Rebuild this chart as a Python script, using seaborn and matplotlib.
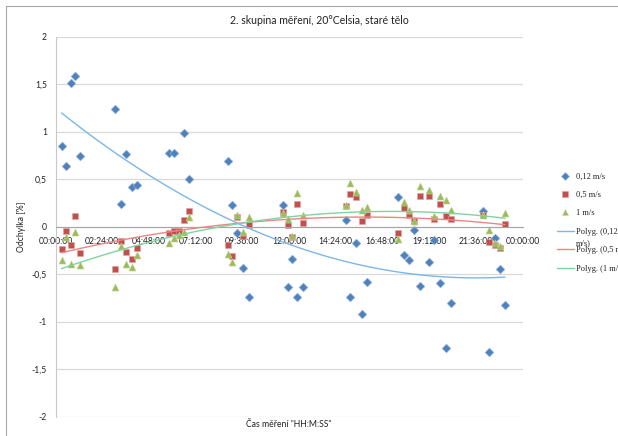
import numpy as np
import pandas as pd
import matplotlib
matplotlib.use("Agg")
import matplotlib.pyplot as plt
from matplotlib.lines import Line2D
import seaborn as sns

# ---------------- data ----------------
# measurement times in hours of the day
times_h = [0.31, 0.54, 0.78, 1.02, 1.28,
           3.08, 3.35, 3.62, 3.91, 4.20,
           5.81, 6.08, 6.35, 6.62, 6.87,
           8.89, 9.07, 9.34, 9.62, 9.93,
           11.68, 11.94, 12.16, 12.43, 12.72,
           14.93, 15.14, 15.44, 15.73, 15.99,
           17.58, 17.91, 18.18, 18.44, 18.71,
           19.21, 19.47, 19.78, 20.05, 20.33,
           21.98, 22.27, 22.58, 22.84, 23.10]

v_012 = [0.855, 0.64, 1.51, 1.59, 0.75,
         1.245, 0.244, 0.77, 0.42, 0.44,
         0.78, 0.78, np.nan, 0.99, 0.50,
         0.69, 0.23, -0.07, -0.43, -0.74,
         0.23, -0.64, -0.34, -0.74, -0.63,
         0.076, -0.745, -0.17, -0.92, -0.58,
         0.31, -0.30, -0.35, -0.03, -0.626,
         -0.37, -0.14, -0.59, -1.275, -0.80,
         0.17, -1.32, -0.12, -0.45, -0.83]

v_05 = [-0.23, -0.04, -0.19, 0.11, -0.28,
        -0.45, -0.15, -0.27, -0.335, -0.22,
        -0.065, -0.04, -0.05, 0.07, 0.166,
        -0.19, -0.31, 0.10, -0.10, 0.02,
        0.156, 0.016, -0.107, 0.244, 0.044,
        0.216, 0.34, 0.31, 0.065, 0.128,
        -0.07, 0.20, 0.12, 0.058, 0.32,
        0.32, 0.086, 0.237, 0.114, 0.08,
        0.128, -0.16, -0.195, -0.22, 0.034]

v_1 = [-0.35, -0.11, -0.39, -0.06, -0.405,
       -0.64, -0.20, -0.395, -0.42, -0.30,
       -0.17, -0.12, -0.09, -0.055, 0.10,
       -0.29, -0.37, 0.12, -0.06, 0.10,
       0.14, 0.086, -0.10, 0.356, 0.128,
       0.226, 0.46, 0.366, 0.174, 0.21,
       -0.13, 0.26, 0.18, 0.06, 0.43,
       0.39, 0.11, 0.324, 0.28, 0.18,
       0.12, -0.03, -0.17, -0.20, 0.14]

series_names = ["0,12 m/s", "0,5 m/s", "1 m/s"]
trend_names = ["Polyg. (0,12", "Polyg. (0,5 m/s)", "Polyg. (1 m/s)"]
x_ticks = [0, 2.4, 4.8, 7.2, 9.6, 12, 14.4, 16.8, 19.2, 21.6, 24]
x_tick_labels = ["00:00:00", "02:24:00", "04:48:00", "07:12:00", "09:36:00",
                 "12:00:00", "14:24:00", "16:48:00", "19:12:00", "21:36:00",
                 "00:00:00"]
y_ticks = [-2, -1.5, -1, -0.5, 0, 0.5, 1, 1.5, 2]
y_tick_labels = ["-2", "-1,5", "-1", "-0,5", "0", "0,5", "1", "1,5", "2"]
title = "2. skupina měření, 20°Celsia, staré tělo"
x_label = "Čas měření \"HH:M:SS\""
y_label = "Odchylka [%]"

# ---------------- style ----------------
sns.set_style("white")
plt.rcParams["font.family"] = ["Lato", "DejaVu Sans"]
FS = 6.2
TXT = "#222222"
blue, red, green = "#4F81BD", "#C0504D", "#9BBB59"
blue_e, red_e, green_e = "#9DB9DC", "#E2A09E", "#C6D9A0"
tblue, tred, tgreen = "#7EB6E6", "#EB8585", "#7FD3A0"

W, H = 618, 436
fig = plt.figure(figsize=(W / 100, H / 100), dpi=100)
L, R, T, B = 55.5, 522.5, 37.0, 416.5
ax = fig.add_axes([L / W, 1 - B / H, (R - L) / W, (B - T) / H])

df = pd.DataFrame({"t": times_h, "a": v_012, "b": v_05, "c": v_1})

sns.scatterplot(data=df, x="t", y="a", marker="D", s=20, color=blue,
                edgecolor=blue_e, linewidth=0.4, ax=ax, zorder=2)
sns.scatterplot(data=df, x="t", y="b", marker="s", s=20, color=red,
                edgecolor=red_e, linewidth=0.4, ax=ax, zorder=2)
sns.scatterplot(data=df, x="t", y="c", marker="^", s=26, color=green,
                edgecolor=green_e, linewidth=0.4, ax=ax, zorder=2)

for col, c in (("a", tblue), ("b", tred), ("c", tgreen)):
    sns.regplot(data=df, x="t", y=col, order=2, ci=None, scatter=False,
                truncate=True, line_kws={"color": c, "lw": 1.0, "zorder": 3},
                ax=ax)

# spines first (set_position resets the ticks)
for s in ("top", "right"):
    ax.spines[s].set_visible(False)
ax.spines["bottom"].set_position(("data", 0))
ax.spines["bottom"].set_color("#A6A6A6")
ax.spines["bottom"].set_linewidth(0.8)
ax.spines["left"].set_color("#C8C8C8")
ax.spines["left"].set_linewidth(0.8)

ax.set_xlim(0, 24)
ax.set_ylim(-2, 2)
ax.set_xticks(x_ticks)
ax.set_xticklabels(x_tick_labels)
ax.set_yticks(y_ticks)
ax.set_yticklabels(y_tick_labels)
ax.tick_params(axis="x", direction="out", length=2.2, width=0.7,
               color="#A6A6A6", pad=5, labelsize=FS, labelcolor=TXT)
ax.tick_params(axis="y", direction="out", length=2.2, width=0.7,
               color="#C8C8C8", pad=4, labelsize=FS, labelcolor=TXT)
ax.set_axisbelow(True)
ax.yaxis.grid(True, color="#D9D9D9", lw=0.9)
ax.xaxis.grid(False)

ax.set_xlabel(x_label, fontsize=FS, color=TXT)
ax.set_ylabel(y_label, fontsize=FS, color=TXT)
ax.xaxis.set_label_coords(0.5, -(424 - B) / (B - T))
ax.xaxis.label.set_va("center")
ax.yaxis.set_label_coords(-(L - 22) / (R - L), 0.5)
ax.yaxis.label.set_va("center")

fig.text(319 / W, 1 - 21 / H, title, ha="center", va="center",
         fontsize=7.6, color=TXT)

# legend
handles = [
    Line2D([], [], ls="none", marker="D", markersize=3.6, color=blue,
           markeredgecolor=blue_e, markeredgewidth=0.4),
    Line2D([], [], ls="none", marker="s", markersize=4.0, color=red,
           markeredgecolor=red_e, markeredgewidth=0.4),
    Line2D([], [], ls="none", marker="^", markersize=4.4, color=green,
           markeredgecolor=green_e, markeredgewidth=0.4),
    Line2D([], [], color=tblue, lw=1.0),
    Line2D([], [], color=tred, lw=1.0),
    Line2D([], [], color=tgreen, lw=1.0),
]
labels = series_names + trend_names
leg = fig.legend(handles, labels, loc="upper left",
                 bbox_to_anchor=(557 / W, 1 - 172.5 / H), frameon=False,
                 borderpad=0, borderaxespad=0, handlelength=2.0,
                 handletextpad=0.3, labelspacing=1.25,
                 prop={"family": ["Liberation Serif", "DejaVu Serif"],
                       "size": 6})
for t in leg.get_texts():
    t.set_color(TXT)

fig.canvas.draw()
bb = leg.get_texts()[3].get_window_extent()
fig.text(bb.x0 / W, (bb.y0 + bb.y1) / 2 / H - 11.5 / H, "m/s)",
         ha="left", va="center", color=TXT,
         family=["Liberation Serif", "DejaVu Serif"], fontsize=6)

# chart-area border (left and top visible, rest cropped)
fig.add_artist(Line2D([6 / W, 6 / W], [0, 1 - 6 / H], transform=fig.transFigure,
                      color="#A6A6A6", lw=0.8))
fig.add_artist(Line2D([6 / W, 1], [1 - 6 / H, 1 - 6 / H],
                      transform=fig.transFigure, color="#A6A6A6", lw=0.8))

fig.savefig("out.png", dpi=100)
